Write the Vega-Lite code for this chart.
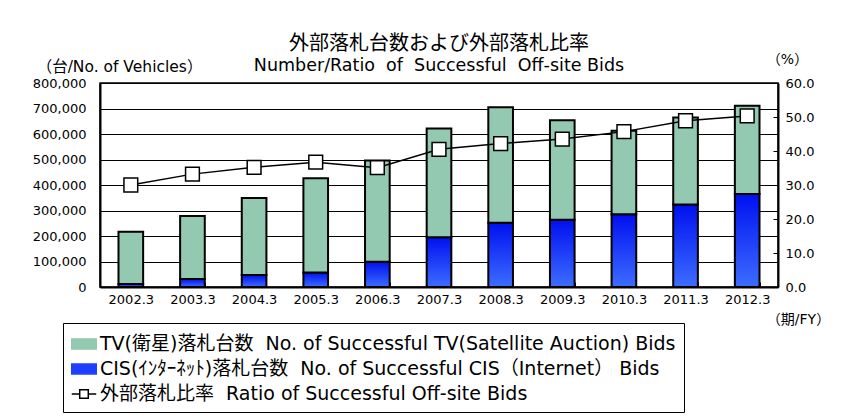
{
  "$schema": "https://vega.github.io/schema/vega-lite/v6.json",
  "width": 678,
  "height": 204,
  "autosize": "none",
  "padding": {"left": 100, "top": 83, "right": 80, "bottom": 132},
  "background": "white",
  "title": {
    "text": "外部落札台数および外部落札比率",
    "subtitle": "Number/Ratio\u00a0\u00a0of\u00a0\u00a0Successful\u00a0\u00a0Off-site Bids",
    "anchor": "middle",
    "frame": "group",
    "font": "'DejaVu Sans', 'Noto Sans CJK JP'",
    "fontSize": 20,
    "fontWeight": "normal",
    "color": "black",
    "subtitleFont": "'DejaVu Sans', 'Noto Sans CJK JP'",
    "subtitleFontSize": 17.5,
    "subtitleColor": "black",
    "subtitlePadding": 3,
    "offset": -22
  },
  "data": {
    "values": [
      {"fy": "2002.3", "cis": 12000, "total": 217000, "ratio": 30.0},
      {"fy": "2003.3", "cis": 31000, "total": 278000, "ratio": 33.2},
      {"fy": "2004.3", "cis": 47000, "total": 349000, "ratio": 35.2},
      {"fy": "2005.3", "cis": 57000, "total": 426000, "ratio": 36.7},
      {"fy": "2006.3", "cis": 99000, "total": 496000, "ratio": 35.1},
      {"fy": "2007.3", "cis": 195000, "total": 622000, "ratio": 40.5},
      {"fy": "2008.3", "cis": 252000, "total": 705000, "ratio": 42.2},
      {"fy": "2009.3", "cis": 264000, "total": 654000, "ratio": 43.5},
      {"fy": "2010.3", "cis": 285000, "total": 613000, "ratio": 45.7},
      {"fy": "2011.3", "cis": 324000, "total": 665000, "ratio": 48.9},
      {"fy": "2012.3", "cis": 365000, "total": 711000, "ratio": 50.3}
    ]
  },
  "encoding": {
    "x": {
      "field": "fy",
      "type": "nominal",
      "sort": null,
      "scale": {"paddingInner": 0.6, "paddingOuter": 0.3},
      "axis": {
        "title": "（期/FY）",
        "titleX": 698,
        "titleY": 32,
        "titleAlign": "center",
        "titleBaseline": "middle",
        "titleFontSize": 14,
        "labelAngle": 0,
        "labelFontSize": 13,
        "labelPadding": 11,
        "labelOverlap": false,
        "tickBand": "extent",
        "ticks": true,
        "tickSize": -5,
        "tickColor": "black",
        "domainColor": "black",
        "domainWidth": 2
      }
    }
  },
  "layer": [
    {
      "layer": [
        {
          "mark": {
            "type": "bar",
            "fill": {
              "gradient": "linear",
              "x1": 0, "y1": 0, "x2": 0, "y2": 1,
              "stops": [
                {"offset": 0, "color": "#0010f0"},
                {"offset": 1, "color": "#3d6dff"}
              ]
            },
            "stroke": "black",
            "strokeWidth": 2
          },
          "encoding": {
            "y": {
              "field": "cis",
              "type": "quantitative",
              "scale": {"domain": [0, 800000]},
              "axis": {
                "orient": "left",
                "values": [0, 100000, 200000, 300000, 400000, 500000, 600000, 700000, 800000],
                "tickCount": 20,
                "labelOverlap": false,
                "format": ",d",
                "grid": true,
                "gridColor": "black",
                "gridWidth": 1,
                "ticks": false,
                "labelPadding": 14,
                "labelFontSize": 13,
                "domainColor": "black",
                "domainWidth": 2,
                "title": "（台/No. of Vehicles）",
                "titleAngle": 0,
                "titleX": 19,
                "titleY": -17,
                "titleAlign": "center",
                "titleBaseline": "middle",
                "titleFontSize": 15.5
              }
            }
          }
        },
        {
          "mark": {"type": "bar", "fill": "#93c9b0", "stroke": "black", "strokeWidth": 2},
          "encoding": {
            "y": {"field": "total", "type": "quantitative"},
            "y2": {"field": "cis"}
          }
        }
      ]
    },
    {
      "layer": [
        {
          "mark": {"type": "line", "strokeWidth": 1.5},
          "encoding": {
            "y": {
              "field": "ratio",
              "type": "quantitative",
              "scale": {"domain": [0, 60]},
              "axis": {
                "orient": "right",
                "values": [0, 10, 20, 30, 40, 50, 60],
                "tickCount": 20,
                "labelOverlap": false,
                "format": ".1f",
                "grid": false,
                "ticks": true,
                "tickSize": -5,
                "tickColor": "black",
                "labelPadding": 12,
                "labelFontSize": 13,
                "domainColor": "black",
                "domainWidth": 2,
                "title": "（%）",
                "titleAngle": 0,
                "titleX": 9,
                "titleY": -24,
                "titleAlign": "center",
                "titleBaseline": "middle",
                "titleFontSize": 14
              }
            },
            "color": {
              "datum": "外部落札比率\u00a0\u00a0Ratio of Successful Off-site Bids",
              "type": "nominal",
              "scale": {
                "domain": [
                  "TV(衛星)落札台数\u00a0\u00a0No. of Successful TV(Satellite Auction) Bids",
                  "CIS(ｲﾝﾀｰﾈｯﾄ)落札台数\u00a0\u00a0No. of Successful CIS（Internet） Bids",
                  "外部落札比率\u00a0\u00a0Ratio of Successful Off-site Bids"
                ],
                "range": ["#93c9b0", "#1f3fff", "black"]
              },
              "legend": {
                "orient": "none",
                "legendX": -37,
                "legendY": 240,
                "title": null,
                "direction": "vertical",
                "strokeColor": "black",
                "fillColor": "white",
                "padding": 8,
                "labelFont": "'DejaVu Sans', 'Noto Sans CJK JP'",
                "labelFontSize": 19,
                "labelColor": "black",
                "labelLimit": 1000,
                "labelOffset": 3,
                "symbolSize": 600,
                "rowPadding": 2,
                "encode": {
                  "symbols": {
                    "update": {
                      "shape": [
                        {"test": "indexof(datum.value, '外部') === 0", "value": "M-1,0H-0.35M0.35,0H1M-0.35,-0.35H0.35V0.35H-0.35Z"},
                        {"value": "M-1,-0.4H1V0.4H-1Z"}
                      ],
                      "fill": [
                        {"test": "indexof(datum.value, 'TV') === 0", "value": "#93c9b0"},
                        {"test": "indexof(datum.value, 'CIS') === 0", "value": "#1f3fff"},
                        {"value": "white"}
                      ],
                      "stroke": {"value": "black"},
                      "strokeWidth": {"value": 1.5},
                      "size": {"value": 600},
                      "opacity": {"value": 1}
                    }
                  }
                }
              }
            }
          }
        },
        {
          "mark": {"type": "point", "shape": "square", "filled": true, "fill": "white", "stroke": "black", "strokeWidth": 1.5, "size": 190, "opacity": 1},
          "encoding": {
            "y": {"field": "ratio", "type": "quantitative"}
          }
        }
      ]
    }
  ],
  "resolve": {"scale": {"y": "independent"}},
  "config": {
    "font": "'DejaVu Sans', 'Noto Sans CJK JP'",
    "view": {"stroke": "black", "strokeWidth": 1.5},
    "axis": {
      "labelColor": "black",
      "titleColor": "black",
      "labelFont": "'DejaVu Sans', 'Noto Sans CJK JP'",
      "titleFont": "'DejaVu Sans', 'Noto Sans CJK JP'",
      "titleFontWeight": "normal"
    }
  }
}
